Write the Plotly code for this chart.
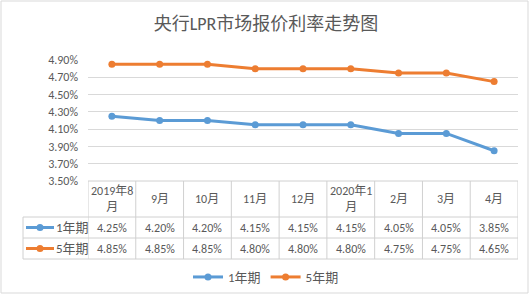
import plotly.graph_objects as go

categories = ["2019年8<br>月", "9月", "10月", "11月", "12月", "2020年1<br>月", "2月", "3月", "4月"]
series_names = ["1年期", "5年期"]
lpr_1y = [4.25, 4.20, 4.20, 4.15, 4.15, 4.15, 4.05, 4.05, 3.85]
lpr_5y = [4.85, 4.85, 4.85, 4.80, 4.80, 4.80, 4.75, 4.75, 4.65]
y_ticks = [3.50, 3.70, 3.90, 4.10, 4.30, 4.50, 4.70, 4.90]
colors = ["#5B9BD5", "#ED7D31"]

W, H = 532, 296
top, bottom, left, right = 60, 181, 88, 518
FONT = "Calibri, Carlito, 'Noto Sans CJK SC', sans-serif"
TXT = "#595959"
GRID = "#D9D9D9"

def py(p):
    return (bottom - p) / (bottom - top)

def px_x(p):
    return (p - left) / (right - left)

xs = list(range(len(categories)))
fig = go.Figure()
for name, vals, col in zip(series_names, [lpr_1y, lpr_5y], colors):
    fig.add_trace(go.Scatter(x=xs, y=vals, name=name, mode="lines+markers",
                             line=dict(color=col, width=3),
                             marker=dict(color=col, size=7, symbol="circle")))

shapes = []
ann = []
line_style = dict(color="#D0D0D0", width=1)
# horizontal table lines
shapes.append(dict(type="line", xref="paper", yref="paper", x0=0, x1=1, y0=py(181), y1=py(181), line=line_style))
for p in [217, 238, 259]:
    shapes.append(dict(type="line", xref="paper", yref="paper", x0=px_x(23), x1=1, y0=py(p), y1=py(p), line=line_style))
# vertical lines
for i in range(len(categories) + 1):
    shapes.append(dict(type="line", xref="x", yref="paper", x0=i - 0.5, x1=i - 0.5, y0=py(181), y1=py(259), line=line_style))
shapes.append(dict(type="line", xref="paper", yref="paper", x0=px_x(23), x1=px_x(23), y0=py(217), y1=py(259), line=line_style))

def cell(x, y, text, xref="x", xanchor="center", size=12):
    return dict(x=x, y=y, xref=xref, yref="paper", text=text, showarrow=False,
                xanchor=xanchor, yanchor="middle", align="center",
                font=dict(size=size, color=TXT, family=FONT))

# header and values
for i, c in enumerate(categories):
    ann.append(cell(i, py(199), c))
    ann.append(cell(i, py(227.5), f"{lpr_1y[i]:.2f}%"))
    ann.append(cell(i, py(248.5), f"{lpr_5y[i]:.2f}%"))

# row legend keys
for name, col, yc in zip(series_names, colors, [227.5, 248.5]):
    shapes.append(dict(type="line", xref="paper", yref="paper", x0=px_x(26), x1=px_x(54), y0=py(yc), y1=py(yc),
                       line=dict(color=col, width=3)))
    shapes.append(dict(type="circle", xref="paper", yref="paper", xsizemode="pixel", ysizemode="pixel",
                       xanchor=px_x(40), yanchor=py(yc), x0=-3.5, x1=3.5, y0=-3.5, y1=3.5,
                       fillcolor=col, line=dict(color=col, width=0)))
    ann.append(cell(px_x(54), py(yc), name, xref="paper", xanchor="left", size=13))

# outer chart border
shapes.append(dict(type="rect", xref="paper", yref="paper", x0=px_x(1), x1=px_x(528), y0=py(1), y1=py(293),
                   line=dict(color="#D9D9D9", width=1)))

fig.update_layout(
    width=W, height=H,
    margin=dict(l=left, r=W - right, t=top, b=H - bottom),
    paper_bgcolor="white", plot_bgcolor="white",
    title=dict(text="央行LPR市场报价利率走势图", x=0.5, xanchor="center", y=1 - 24 / H, yanchor="middle",
               font=dict(size=18, color=TXT, family=FONT)),
    xaxis=dict(range=[-0.5, len(categories) - 0.5], showticklabels=False, showgrid=False, zeroline=False,
               showline=False, fixedrange=True),
    yaxis=dict(range=[3.5, 4.9], tickvals=y_ticks, ticktext=[f"{v:.2f}%" for v in y_ticks],
               showgrid=True, gridcolor=GRID, gridwidth=1, zeroline=False, showline=False,
               tickfont=dict(size=12, color=TXT, family=FONT), ticks="", ticklen=0,
               ticklabelstandoff=9),
    legend=dict(orientation="h", xref="container", yref="container", x=0.5, xanchor="center",
                y=1 - 277 / H, yanchor="middle", font=dict(size=13, color=TXT, family=FONT),
                itemwidth=30, bgcolor="rgba(0,0,0,0)"),
    shapes=shapes, annotations=ann, showlegend=True,
)
fig.write_html("out.html")
